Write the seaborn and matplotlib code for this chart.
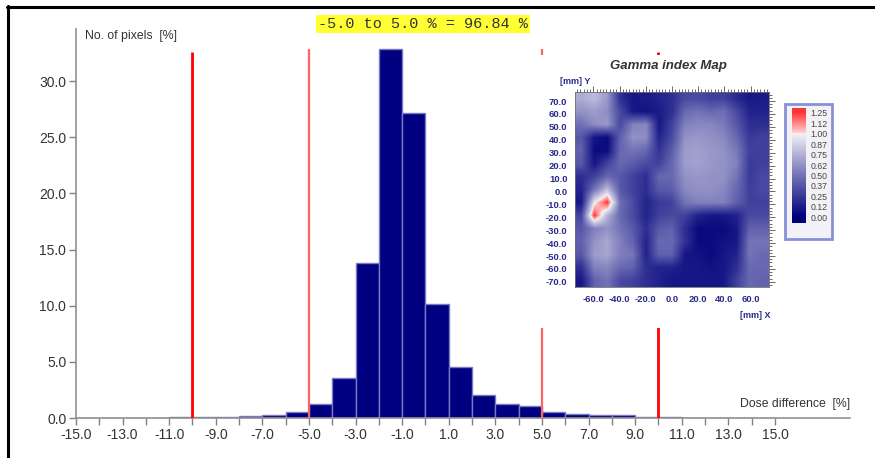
import numpy as np
import pandas as pd
import matplotlib
matplotlib.use("Agg")
import matplotlib.pyplot as plt
import seaborn as sns
from matplotlib.colors import LinearSegmentedColormap, Normalize
from matplotlib.lines import Line2D
from matplotlib.patches import Rectangle
from matplotlib.ticker import MultipleLocator, FixedLocator

# ---------------- data ----------------
bin_edges = list(range(-15, 16))
bin_values = [0.0, 0.01, 0.04, 0.04, 0.05, 0.05, 0.12, 0.18, 0.30, 0.56,
              1.25, 3.56, 13.8, 32.9, 27.2, 10.15, 4.54, 2.07, 1.28, 1.04,
              0.53, 0.36, 0.30, 0.24, 0.12, 0.09, 0.03, 0.03, 0.03, 0.03]
limit_x = [-10, -5, 5, 10]
limit_top = [32.6, 32.9, 32.9, 32.6]
limit_colors = ["#ff0000", "#ff6464", "#ff6464", "#ff0000"]
x_tick_values = list(range(-15, 16))
y_tick_values = [0, 5, 10, 15, 20, 25, 30]
title_text = "-5.0 to 5.0 % = 96.84 %"
x_label = "Dose difference  [%]"
y_label = "No. of pixels  [%]"

# gamma index map (rows top -> bottom, mm extent)
gamma_grid = [
    [0.72, 0.78, 0.65, 0.20, 0.10, 0.12, 0.15, 0.20, 0.32, 0.32, 0.28, 0.28, 0.18, 0.10, 0.12],
    [0.62, 0.66, 0.60, 0.32, 0.10, 0.08, 0.12, 0.20, 0.45, 0.50, 0.45, 0.48, 0.32, 0.15, 0.15],
    [0.48, 0.60, 0.65, 0.32, 0.55, 0.58, 0.10, 0.28, 0.55, 0.58, 0.58, 0.52, 0.38, 0.20, 0.20],
    [0.38, 0.10, 0.05, 0.42, 0.62, 0.60, 0.15, 0.32, 0.62, 0.64, 0.62, 0.58, 0.45, 0.25, 0.28],
    [0.42, 0.05, 0.05, 0.45, 0.50, 0.45, 0.22, 0.40, 0.66, 0.68, 0.64, 0.62, 0.52, 0.28, 0.28],
    [0.38, 0.10, 0.28, 0.45, 0.40, 0.32, 0.28, 0.45, 0.66, 0.68, 0.64, 0.62, 0.56, 0.25, 0.28],
    [0.20, 0.28, 0.45, 0.38, 0.28, 0.20, 0.45, 0.45, 0.62, 0.64, 0.62, 0.62, 0.50, 0.25, 0.32],
    [0.15, 0.50, 0.80, 0.38, 0.28, 0.20, 0.38, 0.40, 0.58, 0.62, 0.62, 0.58, 0.45, 0.28, 0.32],
    [0.10, 0.95, 1.25, 0.48, 0.32, 0.15, 0.25, 0.28, 0.50, 0.55, 0.55, 0.55, 0.42, 0.28, 0.28],
    [0.30, 1.25, 0.75, 0.45, 0.32, 0.15, 0.28, 0.32, 0.28, 0.15, 0.10, 0.10, 0.15, 0.32, 0.32],
    [0.38, 0.55, 0.62, 0.50, 0.38, 0.20, 0.38, 0.42, 0.20, 0.05, 0.05, 0.05, 0.10, 0.42, 0.42],
    [0.42, 0.62, 0.70, 0.55, 0.42, 0.15, 0.45, 0.45, 0.22, 0.05, 0.05, 0.08, 0.10, 0.50, 0.50],
    [0.38, 0.66, 0.70, 0.55, 0.50, 0.15, 0.42, 0.42, 0.10, 0.08, 0.05, 0.10, 0.15, 0.50, 0.45],
    [0.20, 0.55, 0.58, 0.45, 0.42, 0.20, 0.15, 0.15, 0.10, 0.10, 0.08, 0.10, 0.20, 0.45, 0.45],
    [0.10, 0.42, 0.50, 0.32, 0.28, 0.20, 0.15, 0.10, 0.10, 0.10, 0.10, 0.10, 0.28, 0.45, 0.42],
]
map_extent = [-74, 74, -74, 77]
map_x_ticks = [-60, -40, -20, 0, 20, 40, 60]
map_y_ticks = [70, 60, 50, 40, 30, 20, 10, 0, -10, -20, -30, -40, -50, -60, -70]
cbar_ticks = [0.0, 0.125, 0.25, 0.375, 0.5, 0.625, 0.75, 0.875, 1.0, 1.125, 1.25]
cbar_labels = ["0.00", "0.12", "0.25", "0.37", "0.50", "0.62", "0.75", "0.87", "1.00", "1.12", "1.25"]

# ---------------- figure ----------------
sns.set_style("white")
plt.rcParams["font.family"] = ["Liberation Sans", "DejaVu Sans"]

W, H = 875, 458
fig = plt.figure(figsize=(W / 100, H / 100), dpi=100)
fig.patch.set_facecolor("white")

def fx(px):
    return px / W

def fy(py):
    return 1 - py / H

ax = fig.add_axes([fx(76), fy(418), fx(850) - fx(76), fy(29) - fy(418)])
ax.set_zorder(0)

centers = [(bin_edges[i] + bin_edges[i + 1]) / 2 for i in range(len(bin_values))]
df = pd.DataFrame({"center": centers, "value": bin_values})
sns.histplot(data=df, x="center", weights="value", bins=bin_edges, ax=ax,
             color="#000080", edgecolor="#7878c4", linewidth=1.0, alpha=1.0,
             stat="count")

for xv, top, c in zip(limit_x, limit_top, limit_colors):
    ax.vlines(xv, 0, top, colors=c, linewidth=2.0 if c == "#ff0000" else 1.6, zorder=5)

ax.set_xlim(-15, 18.22)
ax.set_ylim(0, 34.64)
ax.set_xlabel("")
ax.set_ylabel("")
ax.xaxis.set_major_locator(FixedLocator(x_tick_values))
ax.set_xticklabels([f"{v:.1f}" if v % 2 != 0 else "" for v in x_tick_values])
ax.set_yticks(y_tick_values)
ax.set_yticklabels([f"{v:.1f}" for v in y_tick_values])
ax.tick_params(axis="both", which="major", direction="out", length=5, width=1,
               color="#808080", labelcolor="#333333", labelsize=10, pad=2,
               bottom=True, left=True)
for side in ["top", "right"]:
    ax.spines[side].set_visible(False)
for side in ["left", "bottom"]:
    ax.spines[side].set_color("#909090")
    ax.spines[side].set_linewidth(1.2)

fig.text(fx(85), fy(36), y_label, fontsize=8.8, color="#333333", va="center", ha="left")
fig.text(fx(850), fy(404), x_label, fontsize=8.8, color="#333333", va="center", ha="right")

fig.text(fx(423), fy(24), title_text, family=["Liberation Mono", "DejaVu Sans Mono"],
         fontsize=11, color="#333333", ha="center", va="center",
         bbox=dict(boxstyle="square,pad=0.15", facecolor="#ffff33", edgecolor="none"))

# white background for inset
bg = fig.add_axes([fx(535), fy(328), fx(862) - fx(535), fy(55) - fy(328)])
bg.set_zorder(2)
bg.set_facecolor("white")
bg.set_xticks([])
bg.set_yticks([])
for s in bg.spines.values():
    s.set_visible(False)
bg.add_patch(Rectangle((fx(785), fy(239)), fx(832) - fx(785), fy(104) - fy(239),
                       transform=fig.transFigure, facecolor="#f2f2f6",
                       edgecolor="#8890d8", linewidth=2, clip_on=False))

cmap = LinearSegmentedColormap.from_list(
    "gamma",
    [(0.0, "#00007a"), (0.4, "#7474b8"), (0.8, "#f4f2f6"),
     (0.801, "#ffd4d4"), (1.0, "#ff3434")])
norm = Normalize(vmin=0, vmax=1.25)

axm = fig.add_axes([fx(575), fy(287), fx(769) - fx(575), fy(92) - fy(287)])
axm.set_zorder(3)
axm.imshow(np.array(gamma_grid), cmap=cmap, norm=norm, extent=map_extent,
           aspect="auto", interpolation="bilinear", origin="upper")
axm.set_xlim(map_extent[0], map_extent[1])
axm.set_ylim(map_extent[2], map_extent[3])
axm.set_xticks(map_x_ticks)
axm.set_xticklabels([f"{v:.1f}" for v in map_x_ticks])
axm.set_yticks(map_y_ticks)
axm.set_yticklabels([f"{v:.1f}" for v in map_y_ticks])
axm.xaxis.set_minor_locator(MultipleLocator(2.5))
axm.yaxis.set_minor_locator(MultipleLocator(2.5))
axm.tick_params(which="both", direction="out", top=True, right=True,
                color="#505050", width=0.6)
axm.tick_params(which="major", length=4)
axm.tick_params(which="minor", length=2)
axm.tick_params(labelsize=6.8, labelcolor="#2a2a8a", pad=1.5)
for lab in axm.get_xticklabels() + axm.get_yticklabels():
    lab.set_fontweight("bold")
for s in axm.spines.values():
    s.set_color("#707070")
    s.set_linewidth(0.6)

fig.text(fx(668), fy(66), "Gamma index Map", fontsize=9.5, fontweight="bold",
         fontstyle="italic", color="#333333", ha="center", va="center")
fig.text(fx(560), fy(81), "[mm] Y", fontsize=6.5, fontweight="bold",
         color="#2a2a8a", ha="left", va="center")
fig.text(fx(770), fy(315), "[mm] X", fontsize=6.5, fontweight="bold",
         color="#2a2a8a", ha="right", va="center")

# colour bar
cax = fig.add_axes([fx(792), fy(223), fx(806) - fx(792), fy(108) - fy(223)])
cax.set_zorder(4)
grad = np.linspace(1.31, -0.072, 200).reshape(-1, 1)
cax.imshow(grad, cmap=cmap, norm=norm, extent=[0, 1, -0.072, 1.31], aspect="auto")
cax.set_xlim(0, 1)
cax.set_ylim(-0.072, 1.31)
cax.set_xticks([])
cax.yaxis.tick_right()
cax.set_yticks(cbar_ticks)
cax.set_yticklabels(cbar_labels)
cax.tick_params(axis="y", length=0, labelsize=6.3, labelcolor="#444444", pad=3)
for s in cax.spines.values():
    s.set_visible(False)

# outer frame lines (top and left)
fig.add_artist(Line2D([fx(7), 1.0], [fy(7), fy(7)], color="black", linewidth=2.2,
                      transform=fig.transFigure))
fig.add_artist(Line2D([fx(8), fx(8)], [fy(6), 0.0], color="black", linewidth=2.2,
                      transform=fig.transFigure))

fig.savefig("out.png", dpi=100)
